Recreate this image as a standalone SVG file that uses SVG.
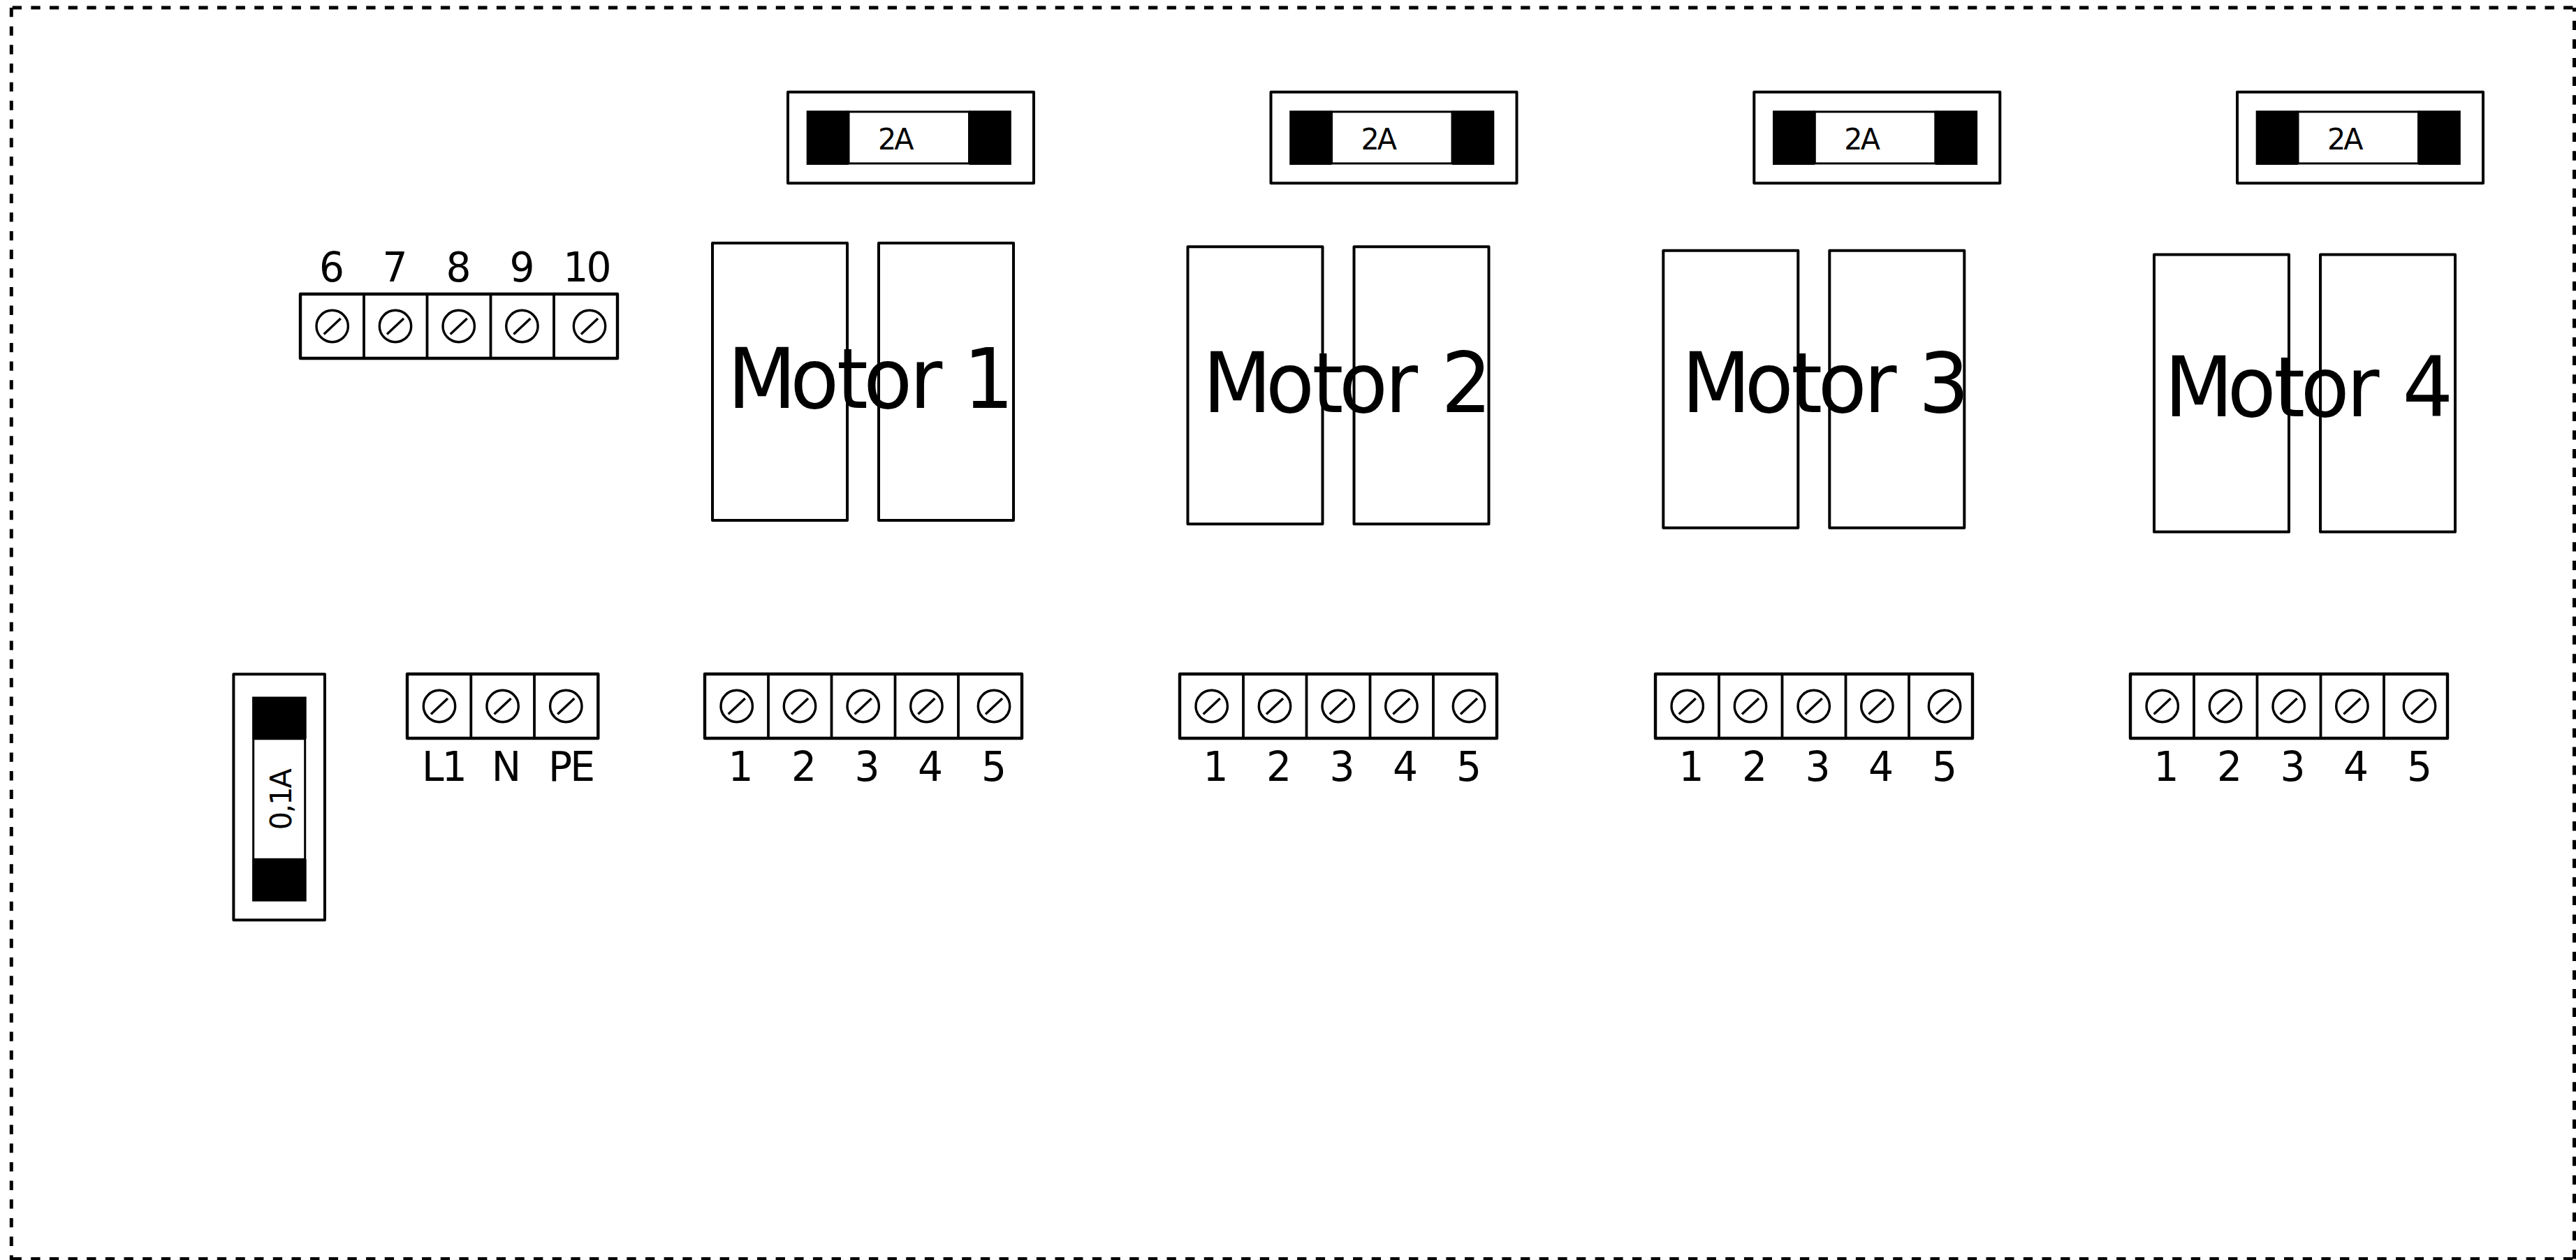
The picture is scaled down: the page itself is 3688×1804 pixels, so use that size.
<svg xmlns="http://www.w3.org/2000/svg" width="3688" height="1804" viewBox="0 0 3688 1804">
<style>
text{font-family:'DejaVu Sans',sans-serif;fill:#000}
.b{fill:#fff;stroke:#000;stroke-width:4.400;stroke-linejoin:round}
.d{fill:none;stroke:#000;stroke-width:3.800}
.s{fill:none;stroke:#000;stroke-width:3.400}
.i{fill:#fff;stroke:#000;stroke-width:3}
.m{fill:none;stroke:#000;stroke-width:4;stroke-linejoin:round}
.o{fill:none;stroke:#000;stroke-width:5;stroke-dasharray:13.33 13.33}
.t{font-size:59px;text-anchor:middle}
.n{letter-spacing:-3px}
.f{font-size:43px;letter-spacing:-3px}
.f2{font-size:43px;letter-spacing:-2px}
.mt{font-size:119px}
</style>
<defs>
<g id="screw"><circle r="22.700" class="s"/><path d="M-12 11.500L12-11" class="s"/></g>
<g id="strip5">
<rect x="0" y="0" width="454" height="92" class="b"/>
<path d="M91 0V92M181.500 0V92M272.500 0V92M363 0V92" class="d"/>
<use href="#screw" x="45.700" y="46"/><use href="#screw" x="136" y="46"/><use href="#screw" x="226.700" y="46"/><use href="#screw" x="317.400" y="46"/><use href="#screw" x="414" y="46"/>
</g>
<g id="labels15">
<text class="t" transform="translate(51.500 153) scale(.96 1)">1</text>
<text class="t" transform="translate(142 153) scale(.96 1)">2</text>
<text class="t" transform="translate(232.500 153) scale(.96 1)">3</text>
<text class="t" transform="translate(323 153) scale(.96 1)">4</text>
<text class="t" transform="translate(414 153) scale(.96 1)">5</text>
</g>
<g id="fusebody">
<rect x="0" y="0" width="352" height="130.600" class="m"/>
<rect x="87" y="28.300" width="172.500" height="74" class="i"/>
<rect x="26.700" y="26.700" width="60.300" height="77.600" fill="#000"/>
<rect x="259.500" y="26.700" width="60.300" height="77.600" fill="#000"/>
</g>
<g id="motorbody">
<rect x="0" y="0" width="193" height="397" class="m"/>
<rect x="238" y="0" width="193" height="397" class="m"/>
</g>
</defs>
<g id="frame" fill="none">
<path d="M17.700 11H3685.500" class="o"/>
<path d="M16.300 11V1804" class="o"/>
<path d="M3685.500 1802.600V11" class="o"/>
<path d="M3683.300 1802.500H16" class="o"/>
</g>
<g id="connectors"/>
<g id="fuse-1" transform="translate(1128 131.700)"><use href="#fusebody"/><text class="f" transform="translate(129 82.600) scale(.96 1)">2A</text></g>
<g id="fuse-2" transform="translate(1819.500 131.700)"><use href="#fusebody"/><text class="f" transform="translate(129 82.600) scale(.96 1)">2A</text></g>
<g id="fuse-3" transform="translate(2511.300 131.700)"><use href="#fusebody"/><text class="f" transform="translate(129 82.600) scale(.96 1)">2A</text></g>
<g id="fuse-4" transform="translate(3203 131.700)"><use href="#fusebody"/><text class="f" transform="translate(129 82.600) scale(.96 1)">2A</text></g>
<g id="fuse-main" transform="translate(334.400 1317.300) rotate(-90)"><use href="#fusebody"/><text class="f2" transform="translate(129 82.600) scale(.96 1)">0,1A</text></g>
<g id="motor-1"><use href="#motorbody" x="1020" y="348"/><text class="mt" transform="translate(1041.500 584) scale(.96 1)" x="0 93.600 163 203 271.700 310 351.500">Motor 1</text></g>
<g id="motor-2"><use href="#motorbody" x="1700.500" y="353.300"/><text class="mt" transform="translate(1722.100 590) scale(.96 1)" x="0 93.600 163 203 271.700 315 355.500">Motor 2</text></g>
<g id="motor-3"><use href="#motorbody" x="2381.300" y="358.700"/><text class="mt" transform="translate(2407.800 590) scale(.96 1)" x="0 93.600 163 203 271.700 315 353">Motor 3</text></g>
<g id="motor-4"><use href="#motorbody" x="3084" y="364.500"/><text class="mt" transform="translate(3098.800 595.500) scale(.96 1)" x="0 93.600 163 203 271.700 315 355">Motor 4</text></g>
<g id="terminal-6-10" transform="translate(430 421)"><use href="#strip5"/>
<text class="t" transform="translate(45 -18) scale(.96 1)">6</text>
<text class="t" transform="translate(135.500 -18) scale(.96 1)">7</text>
<text class="t" transform="translate(226.500 -18) scale(.96 1)">8</text>
<text class="t" transform="translate(317.600 -18) scale(.96 1)">9</text>
<text class="t n" transform="translate(409.400 -18) scale(.96 1)">10</text></g>
<g id="terminal-mains" transform="translate(583 965)">
<rect x="0" y="0" width="273.300" height="92" class="b"/>
<path d="M91.300 0V92M182 0V92" class="d"/>
<use href="#screw" x="46" y="46"/><use href="#screw" x="136.600" y="46"/><use href="#screw" x="227.300" y="46"/>
<text class="t n" transform="translate(52 153) scale(.96 1)">L1</text>
<text class="t" transform="translate(142 153) scale(.96 1)">N</text>
<text class="t n" transform="translate(234 153) scale(.96 1)">PE</text></g>
<g id="terminal-1" transform="translate(1009 965)"><use href="#strip5"/><use href="#labels15"/></g>
<g id="terminal-2" transform="translate(1689 965)"><use href="#strip5"/><use href="#labels15"/></g>
<g id="terminal-3" transform="translate(2370 965)"><use href="#strip5"/><use href="#labels15"/></g>
<g id="terminal-4" transform="translate(3050 965)"><use href="#strip5"/><use href="#labels15"/></g>
</svg>
